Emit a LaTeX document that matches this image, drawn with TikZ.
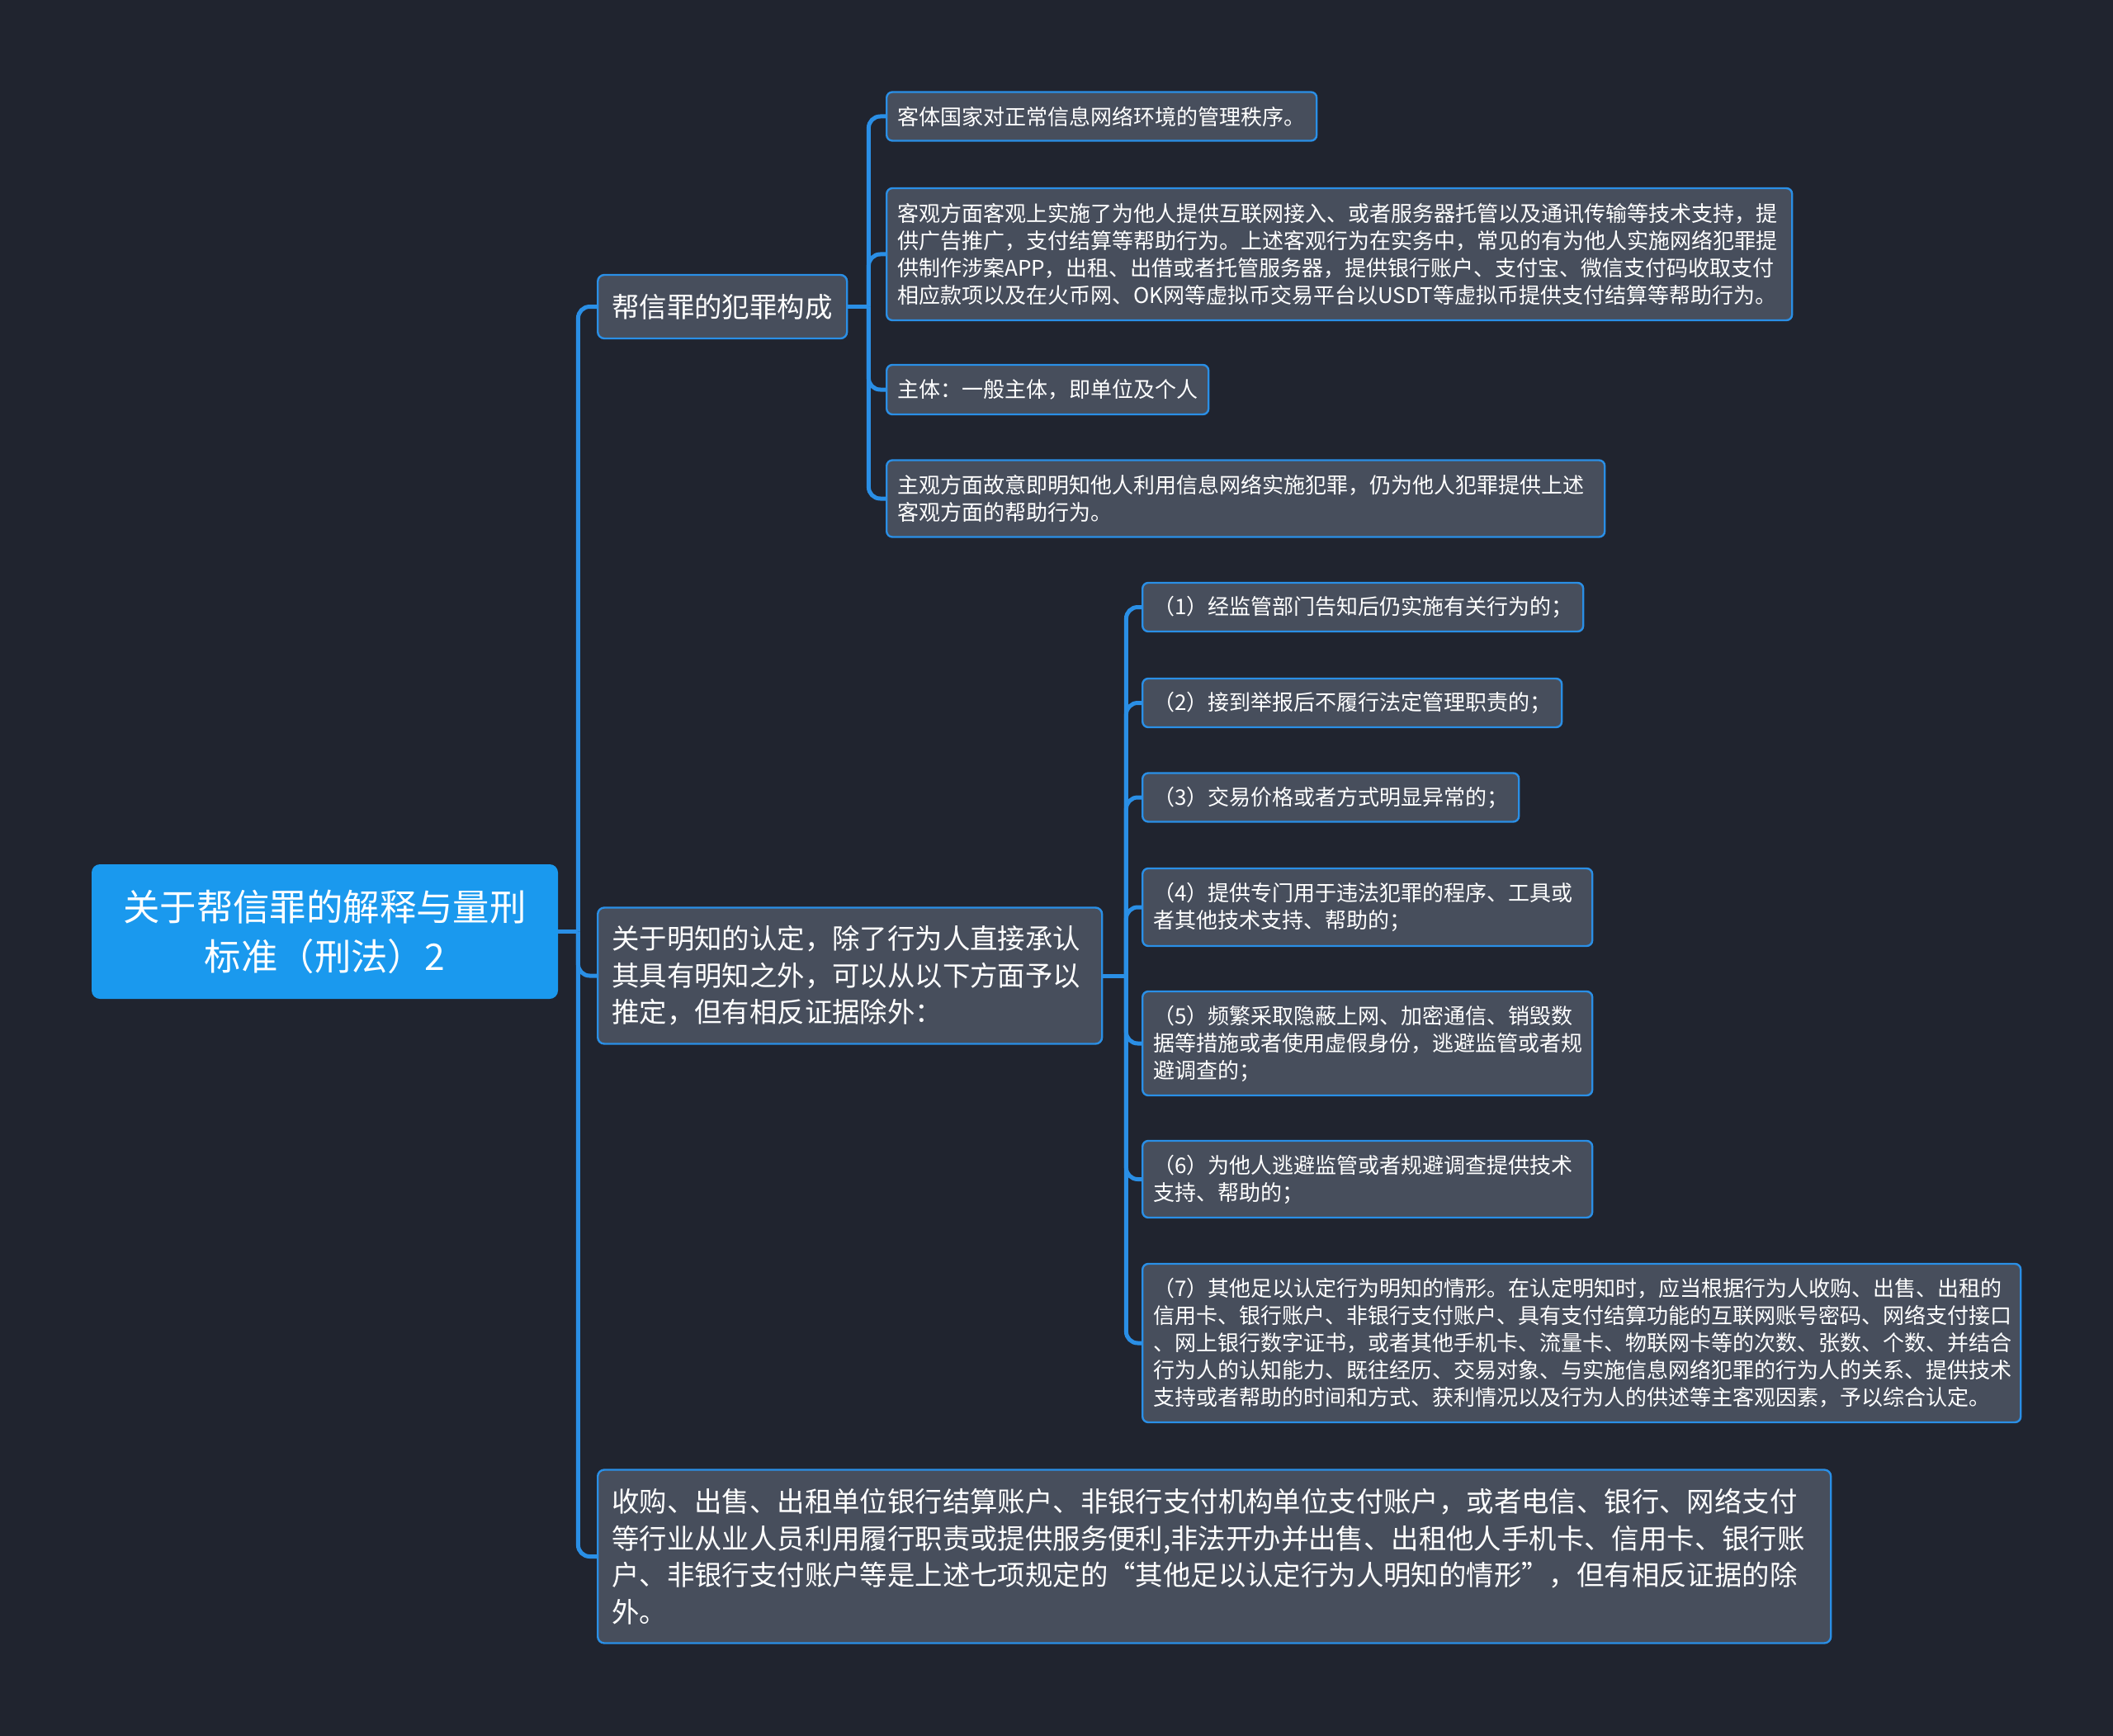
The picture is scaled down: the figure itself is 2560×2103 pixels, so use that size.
\documentclass[tikz,border=0pt]{standalone}
\usepackage{fontspec}
\setmainfont{Noto Sans CJK SC}
\usepackage{xcolor}
\usetikzlibrary{positioning,calc}
\definecolor{bgcol}{HTML}{20242F}
\definecolor{boxcol}{HTML}{474E5C}
\definecolor{rimcol}{HTML}{2A8FE6}
\definecolor{rootcol}{HTML}{1A99EE}

\begin{document}
\begin{tikzpicture}[x=0.5pt, y=-0.5pt,
  root/.style={fill=rootcol, rounded corners=5pt, align=center, text=white, inner sep=0pt,
    font=\fontsize{22.2}{30}\selectfont},
  topic/.style={draw=rimcol, line width=1.2pt, fill=boxcol, rounded corners=4pt, align=left, text=white,
    inner xsep=8.5pt, inner ysep=0pt, anchor=west, font=\fontsize{16.7}{22.2}\selectfont},
  leaf/.style={draw=rimcol, line width=1.2pt, fill=boxcol, rounded corners=3.5pt, align=left, text=white,
    inner xsep=6.5pt, inner ysep=0pt, anchor=west, font=\fontsize{13}{16.5}\selectfont},
  link/.style={draw=rimcol, line width=2.5pt, rounded corners=7pt}]
  \fill[bgcol] (0,0) rectangle (2560,2103);
  \useasboundingbox (0,0) rectangle (2560,2103);
  % root
  \node[root, minimum width=282.5pt, minimum height=81.5pt] (root) at (393.5,1128.5) {关于帮信罪的解释与量刑\\标准（刑法）2};
  % first topic: 犯罪构成
  \node[topic, minimum height=38.5pt, text width=134pt] (b1) at (723,371.5) {帮信罪的犯罪构成};
  \node[leaf, minimum height=29.5pt, text width=247.5pt] (c1) at (1073,141) {客体国家对正常信息网络环境的管理秩序。};
  \node[leaf, minimum height=80pt, text width=535.5pt] (c2) at (1073,308) {客观方面客观上实施了为他人提供互联网接入、或者服务器托管以及通讯传输等技术支持，提\\供广告推广，支付结算等帮助行为。上述客观行为在实务中，常见的有为他人实施网络犯罪提\\供制作涉案APP，出租、出借或者托管服务器，提供银行账户、支付宝、微信支付码收取支付\\相应款项以及在火币网、OK网等虚拟币交易平台以USDT等虚拟币提供支付结算等帮助行为。};
  \node[leaf, minimum height=30pt, text width=182pt] (c3) at (1073,472) {主体：一般主体，即单位及个人};
  \node[leaf, minimum height=46.5pt, text width=422pt] (c4) at (1073,604) {主观方面故意即明知他人利用信息网络实施犯罪，仍为他人犯罪提供上述\\客观方面的帮助行为。};
  % second topic: 明知的认定
  \node[topic, minimum height=82.5pt, text width=288.5pt] (b2) at (723,1182) {关于明知的认定，除了行为人直接承认\\其具有明知之外，可以从以下方面予以\\推定，但有相反证据除外：};
  \node[leaf, minimum height=29.5pt, text width=254pt] (d1) at (1383,735.5) {（1）经监管部门告知后仍实施有关行为的；};
  \node[leaf, minimum height=29.5pt, text width=241pt] (d2) at (1383,851.5) {（2）接到举报后不履行法定管理职责的；};
  \node[leaf, minimum height=29.5pt, text width=215pt] (d3) at (1383,966) {（3）交易价格或者方式明显异常的；};
  \node[leaf, minimum height=47pt, text width=259.5pt] (d4) at (1383,1099) {（4）提供专门用于违法犯罪的程序、工具或\\者其他技术支持、帮助的；};
  \node[leaf, minimum height=63pt, text width=259.5pt] (d5) at (1383,1264) {（5）频繁采取隐蔽上网、加密通信、销毁数\\据等措施或者使用虚假身份，逃避监管或者规\\避调查的；};
  \node[leaf, minimum height=46.5pt, text width=259.5pt] (d6) at (1383,1428.5) {（6）为他人逃避监管或者规避调查提供技术\\支持、帮助的；};
  \node[leaf, minimum height=96pt, text width=519pt] (d7) at (1383,1627) {（7）其他足以认定行为明知的情形。在认定明知时，应当根据行为人收购、出售、出租的\\信用卡、银行账户、非银行支付账户、具有支付结算功能的互联网账号密码、网络支付接口\\、网上银行数字证书，或者其他手机卡、流量卡、物联网卡等的次数、张数、个数、并结合\\行为人的认知能力、既往经历、交易对象、与实施信息网络犯罪的行为人的关系、提供技术\\支持或者帮助的时间和方式、获利情况以及行为人的供述等主客观因素，予以综合认定。};
  % third topic
  \node[topic, minimum height=105pt, text width=730pt] (b3) at (723,1885.5) {收购、出售、出租单位银行结算账户、非银行支付机构单位支付账户，或者电信、银行、网络支付\\等行业从业人员利用履行职责或提供服务便利,非法开办并出售、出租他人手机卡、信用卡、银行账\\户、非银行支付账户等是上述七项规定的“其他足以认定行为人明知的情形”，但有相反证据的除\\外。};
  % links
  \path (root.east) ++(24,0) coordinate (hub0);
  \path (b1.east) ++(25,0) coordinate (hub1);
  \path (b2.east) ++(28,0) coordinate (hub2);
  \draw[link] (root.east) -- (hub0);
  \foreach \t in {b1,b2,b3} \draw[link] (hub0) |- (\t.west);
  \draw[link] (b1.east) -- (hub1);
  \foreach \t in {c1,c2,c3,c4} \draw[link] (hub1) |- (\t.west);
  \draw[link] (b2.east) -- (hub2);
  \foreach \t in {d1,d2,d3,d4,d5,d6,d7} \draw[link] (hub2) |- (\t.west);
\end{tikzpicture}
\end{document}
